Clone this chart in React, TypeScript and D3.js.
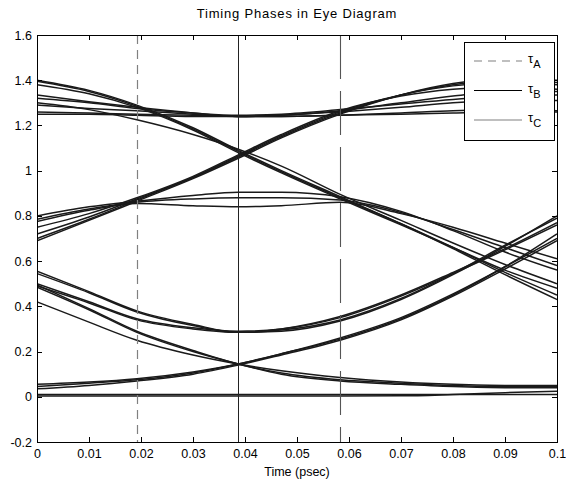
import React, { useEffect, useRef } from 'react'
import * as d3 from 'd3'

const sampleTimes = [0, 0.01, 0.0192, 0.03, 0.0387, 0.047, 0.0583, 0.07, 0.08, 0.09, 0.1]

// high level falling through the upper crossing
const fallHigh = [
  [1.40, 1.355, 1.29, 1.19, 1.09, 1.00, 0.885, 0.765, 0.655, 0.54, 0.43],
  [1.395, 1.35, 1.285, 1.185, 1.085, 0.995, 0.88, 0.765, 0.66, 0.55, 0.45],
  [1.38, 1.34, 1.28, 1.18, 1.08, 0.99, 0.875, 0.76, 0.66, 0.56, 0.48],
  [1.30, 1.27, 1.225, 1.16, 1.095, 1.02, 0.895, 0.78, 0.68, 0.585, 0.50],
]

const flatTop = [
  [1.335, 1.305, 1.28, 1.255, 1.24, 1.245, 1.265, 1.30, 1.33, 1.35, 1.35],
  [1.32, 1.30, 1.275, 1.255, 1.245, 1.25, 1.27, 1.295, 1.315, 1.33, 1.335],
  [1.29, 1.275, 1.265, 1.25, 1.24, 1.245, 1.26, 1.28, 1.30, 1.31, 1.31],
  [1.26, 1.255, 1.25, 1.245, 1.24, 1.24, 1.245, 1.255, 1.265, 1.27, 1.265],
  [1.25, 1.25, 1.245, 1.24, 1.24, 1.24, 1.245, 1.25, 1.255, 1.26, 1.26],
]

const riseHigh = [
  [0.69, 0.78, 0.865, 0.965, 1.055, 1.145, 1.25, 1.335, 1.385, 1.405, 1.40],
  [0.70, 0.785, 0.87, 0.97, 1.06, 1.15, 1.255, 1.335, 1.38, 1.40, 1.39],
  [0.72, 0.795, 0.875, 0.97, 1.065, 1.155, 1.26, 1.335, 1.375, 1.39, 1.38],
  [0.75, 0.81, 0.88, 0.975, 1.07, 1.16, 1.265, 1.33, 1.36, 1.37, 1.36],
]

const arches = [
  [0.80, 0.84, 0.865, 0.89, 0.905, 0.905, 0.885, 0.82, 0.735, 0.64, 0.56],
  [0.785, 0.83, 0.86, 0.875, 0.88, 0.88, 0.87, 0.815, 0.74, 0.66, 0.58],
  [0.775, 0.825, 0.855, 0.845, 0.84, 0.845, 0.86, 0.81, 0.75, 0.68, 0.61],
]

const uShape = [
  [0.555, 0.465, 0.38, 0.32, 0.285, 0.29, 0.335, 0.43, 0.54, 0.665, 0.80],
  [0.545, 0.46, 0.375, 0.315, 0.285, 0.295, 0.34, 0.435, 0.545, 0.67, 0.79],
  [0.50, 0.42, 0.345, 0.305, 0.29, 0.30, 0.35, 0.445, 0.545, 0.65, 0.76],
  [0.49, 0.415, 0.34, 0.30, 0.285, 0.30, 0.355, 0.45, 0.55, 0.655, 0.77],
]

const fallLow = [
  [0.495, 0.39, 0.29, 0.205, 0.145, 0.105, 0.075, 0.06, 0.05, 0.045, 0.045],
  [0.485, 0.385, 0.285, 0.20, 0.145, 0.10, 0.07, 0.055, 0.045, 0.04, 0.04],
  [0.42, 0.33, 0.25, 0.185, 0.145, 0.115, 0.085, 0.065, 0.055, 0.05, 0.05],
]

const riseLow = [
  [0.055, 0.065, 0.08, 0.11, 0.145, 0.19, 0.26, 0.35, 0.455, 0.575, 0.70],
  [0.045, 0.06, 0.075, 0.105, 0.145, 0.19, 0.255, 0.345, 0.45, 0.575, 0.72],
  [0.035, 0.05, 0.07, 0.10, 0.14, 0.185, 0.25, 0.34, 0.445, 0.565, 0.69],
]

const flatBottom = [
  [0.01, 0.01, 0.01, 0.01, 0.01, 0.01, 0.01, 0.01, 0.01, 0.01, 0.01],
  [0.003, 0.003, 0.003, 0.003, 0.003, 0.003, 0.003, 0.004, 0.01, 0.018, 0.025],
]

const timingPhases = [0.0192, 0.0387, 0.0583]
const phaseNames = ['A', 'B', 'C']

const xTicks = [0, 0.01, 0.02, 0.03, 0.04, 0.05, 0.06, 0.07, 0.08, 0.09, 0.1]
const xTickLabels = ['0', '0.01', '0.02', '0.03', '0.04', '0.05', '0.06', '0.07', '0.08', '0.09', '0.1']
const yTicks = [-0.2, 0, 0.2, 0.4, 0.6, 0.8, 1, 1.2, 1.4, 1.6]
const yTickLabels = ['-0.2', '0', '0.2', '0.4', '0.6', '0.8', '1', '1.2', '1.4', '1.6']

const width = 566
const height = 487
const font = 'Liberation Sans, Arial, Helvetica, sans-serif'

const App = () => {
  const ref = useRef<SVGSVGElement>(null)

  useEffect(() => {
    const svg = d3.select(ref.current)
    svg.selectAll('*').remove()

    const left = 37, right = 557, top = 35, bottom = 442
    const x = d3.scaleLinear().domain([0, 0.1]).range([left, right])
    const y = d3.scaleLinear().domain([-0.2, 1.6]).range([bottom, top])

    svg.append('rect').attr('width', width).attr('height', height).attr('fill', '#fff')

    svg.append('clipPath').attr('id', 'plot-clip')
      .append('rect')
      .attr('x', left).attr('y', top)
      .attr('width', right - left).attr('height', bottom - top)

    const line = d3.line<number>()
      .x((d, i) => x(sampleTimes[i]))
      .y(d => y(d))
      .curve(d3.curveMonotoneX)

    const traces = [...flatBottom, ...riseLow, ...fallLow, ...uShape, ...arches, ...riseHigh, ...flatTop, ...fallHigh]

    const plot = svg.append('g').attr('clip-path', 'url(#plot-clip)')
    plot.selectAll('path.trace')
      .data(traces)
      .enter()
      .append('path')
      .attr('class', 'trace')
      .attr('d', d => line(d))
      .attr('fill', 'none')
      .attr('stroke', '#1a1a1a')
      .attr('stroke-width', 1.5)

    // timing phase markers
    const phaseStyle = [
      { stroke: '#808080', dash: '9,6', w: 1.2 },
      { stroke: '#222', dash: null, w: 1 },
      { stroke: '#555', dash: '44,12', w: 1.1 },
    ]
    plot.selectAll('line.phase')
      .data(timingPhases)
      .enter()
      .append('line')
      .attr('class', 'phase')
      .attr('x1', d => Math.round(x(d)) + 0.5)
      .attr('x2', d => Math.round(x(d)) + 0.5)
      .attr('y1', top)
      .attr('y2', bottom)
      .attr('stroke', (d, i) => phaseStyle[i].stroke)
      .attr('stroke-width', (d, i) => phaseStyle[i].w)
      .attr('stroke-dasharray', (d, i) => phaseStyle[i].dash)

    // axes, MATLAB style ticks pointing inward
    const styleAxis = (g: any) => {
      g.select('.domain').remove()
      g.attr('font-family', font).attr('font-size', 12.5)
      g.selectAll('.tick line').attr('stroke', '#000').attr('shape-rendering', 'crispEdges')
      g.selectAll('.tick text').attr('fill', '#000')
    }

    svg.append('g')
      .attr('transform', `translate(0, ${bottom})`)
      .call(d3.axisBottom(x).tickValues(xTicks).tickFormat((d, i) => xTickLabels[i])
        .tickSizeInner(-5).tickSizeOuter(0).tickPadding(7))
      .call(styleAxis)

    svg.append('g')
      .attr('transform', `translate(0, ${top})`)
      .call(d3.axisTop(x).tickValues(xTicks).tickFormat(() => '')
        .tickSizeInner(-5).tickSizeOuter(0))
      .call(styleAxis)

    svg.append('g')
      .attr('transform', `translate(${left}, 0)`)
      .call(d3.axisLeft(y).tickValues(yTicks).tickFormat((d, i) => yTickLabels[i])
        .tickSizeInner(-5).tickSizeOuter(0).tickPadding(5))
      .call(styleAxis)

    svg.append('g')
      .attr('transform', `translate(${right}, 0)`)
      .call(d3.axisRight(y).tickValues(yTicks).tickFormat(() => '')
        .tickSizeInner(-5).tickSizeOuter(0))
      .call(styleAxis)

    svg.append('rect')
      .attr('x', left).attr('y', top)
      .attr('width', right - left).attr('height', bottom - top)
      .attr('fill', 'none')
      .attr('stroke', '#000')
      .attr('stroke-width', 1)
      .attr('shape-rendering', 'crispEdges')

    svg.append('text')
      .attr('x', (left + right) / 2)
      .attr('y', 18)
      .attr('text-anchor', 'middle')
      .attr('font-family', font)
      .attr('font-size', 13)
      .attr('letter-spacing', 0.8)
      .text('Timing Phases in Eye Diagram')

    svg.append('text')
      .attr('x', (left + right) / 2)
      .attr('y', 476)
      .attr('text-anchor', 'middle')
      .attr('font-family', font)
      .attr('font-size', 12.5)
      .text('Time (psec)')

    // legend
    const legend = svg.append('g')
    legend.append('rect')
      .attr('x', 464).attr('y', 42)
      .attr('width', 90).attr('height', 98)
      .attr('fill', '#fff')
      .attr('stroke', '#000')
      .attr('shape-rendering', 'crispEdges')

    const legendStyle = [
      { stroke: '#808080', dash: '8,6' },
      { stroke: '#000', dash: null },
      { stroke: '#808080', dash: null },
    ]
    phaseNames.forEach((name, i) => {
      const ly = 61 + i * 29.5
      legend.append('line')
        .attr('x1', 474).attr('x2', 522)
        .attr('y1', ly).attr('y2', ly)
        .attr('stroke', legendStyle[i].stroke)
        .attr('stroke-width', 1.2)
        .attr('stroke-dasharray', legendStyle[i].dash)
      const t = legend.append('text')
        .attr('x', 528).attr('y', ly + 2)
        .attr('font-family', font)
        .attr('font-size', 13)
      t.append('tspan').text('τ')
      t.append('tspan').attr('font-size', 11).attr('dy', 5).text(name)
    })
  }, [])

  return (
    <svg ref={ref} width={width} height={height} style={{ position: 'absolute', left: 0, top: 0 }} />
  )
}

export default App
